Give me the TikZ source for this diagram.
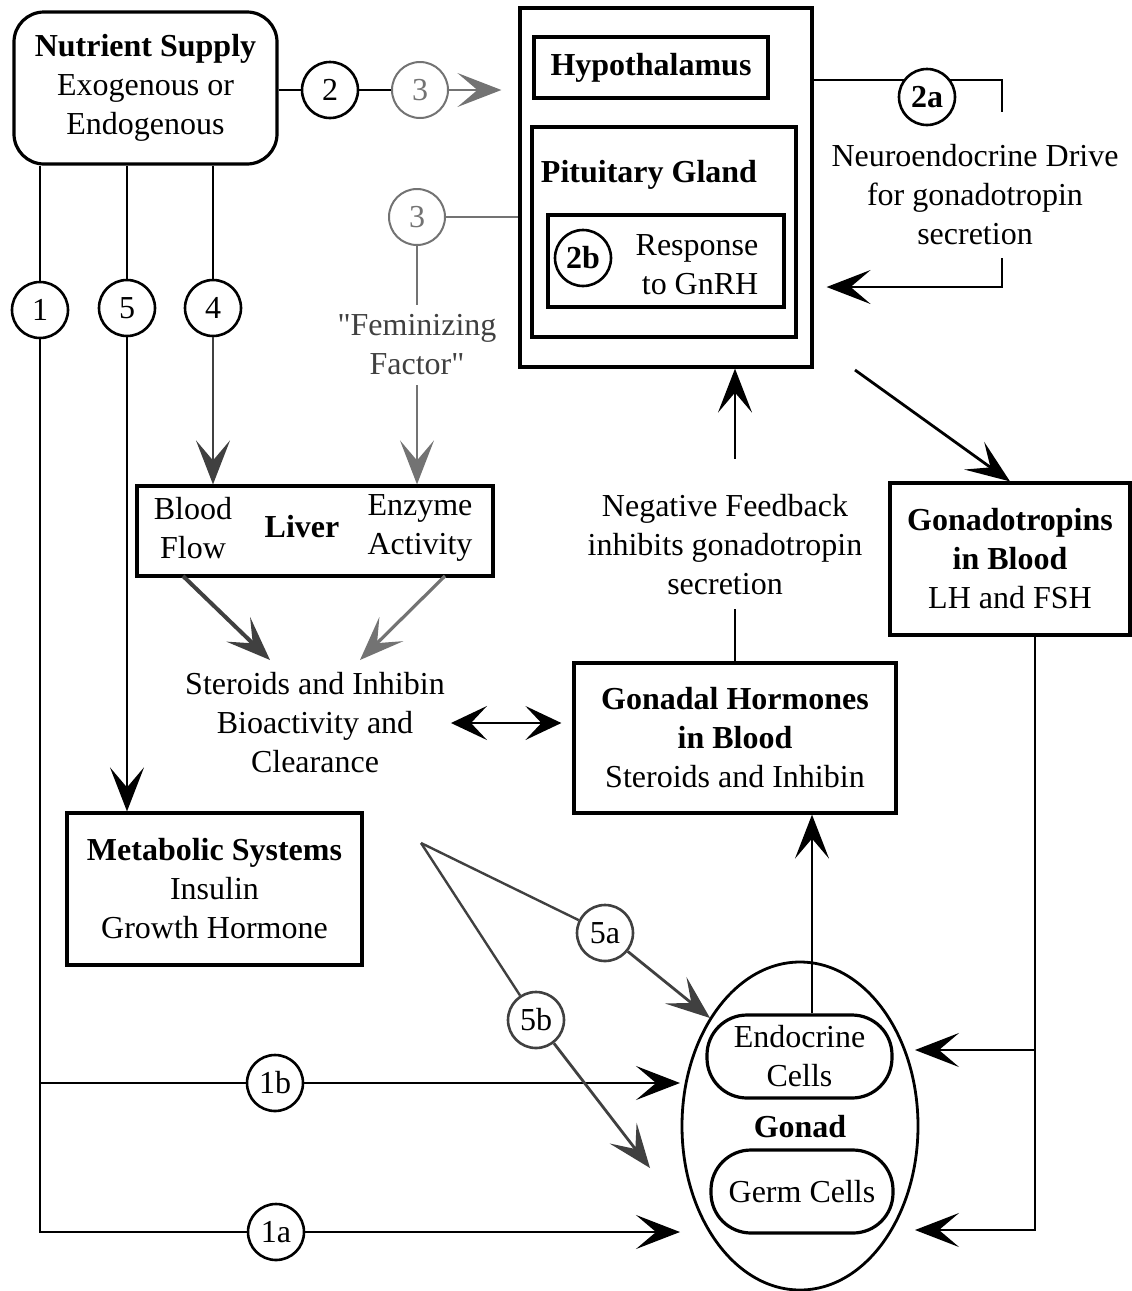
\documentclass[tikz,border=0pt]{standalone}
\usepackage{fontspec}
\setmainfont{Liberation Serif}
\newfontfamily\nqfont{Liberation Serif}[Ligatures=ResetAll]
\usetikzlibrary{arrows.meta,shapes.geometric,calc}
\definecolor{gthree}{gray}{0.45}
\definecolor{dgray}{gray}{0.25}
\begin{document}
\begin{tikzpicture}[x=1pt,y=-1pt,font=\fontsize{32}{39}\selectfont,
  box/.style={draw,line width=3.2pt,align=center,inner sep=0pt},
  num/.style={draw,circle,fill=white,line width=2.6pt,minimum size=56pt,inner sep=0pt},
  conn/.style={line width=2.8pt},
  arr/.style={conn,-{Stealth[length=44pt,width=34pt,inset=20pt]}},
  txt/.style={align=center,inner sep=6pt}]
\useasboundingbox (0,0) rectangle (1132,1291);

% boxes
\node[box,rounded corners=30pt,minimum width=263pt,minimum height=152pt] (nut) at (145.5,88) {\textbf{Nutrient Supply}\\Exogenous or\\Endogenous};
\node[box,minimum width=292pt,minimum height=359pt] (outer) at (666,187.5) {};
\node[box,minimum width=234pt,minimum height=61pt] (hyp) at (651,67.5) {\textbf{Hypothalamus}};
\node[box,minimum width=264pt,minimum height=210pt] (pit) at (664,232) {};
\node[txt] (pitl) at (649,175) {\textbf{Pituitary Gland}};
\node[box,minimum width=236pt,minimum height=92pt] (resp) at (666,261) {};
\node[txt,align=right] (respt) at (697,265) {Response\\to GnRH};

\node[box,minimum width=356pt,minimum height=90pt] (liver) at (315,531) {};
\node[txt] (blood) at (193,528) {Blood\\Flow};
\node[txt] (liv) at (302,527) {\textbf{Liver}};
\node[txt] (enz) at (420,528) {Enzyme\\Activity};

\node[txt] (ster) at (315,723) {Steroids and Inhibin\\Bioactivity and\\Clearance};
\node[box,minimum width=295pt,minimum height=152pt] (meta) at (214.5,889) {\textbf{Metabolic Systems}\\Insulin\\Growth Hormone};
\node[box,minimum width=322pt,minimum height=150pt] (gon) at (735,738) {\textbf{Gonadal Hormones}\\\textbf{in Blood}\\Steroids and Inhibin};
\node[box,minimum width=240pt,minimum height=152pt] (gtr) at (1010,559) {\textbf{Gonadotropins}\\\textbf{in Blood}\\LH and FSH};
\node[txt] (neg) at (725,545) {Negative Feedback\\inhibits gonadotropin\\secretion};
\node[txt] (neuro) at (975,195) {Neuroendocrine Drive\\for gonadotropin\\secretion};
\node[txt,text=black!75,inner sep=10pt] (fem) at (417,345) {{\nqfont"}Feminizing\\Factor{\nqfont"}};

\node[draw,ellipse,line width=2.8pt,minimum width=236pt,minimum height=328pt,inner sep=0pt] (gonad) at (800,1126) {};
\node[box,rounded corners=40pt,minimum width=185pt,minimum height=83pt] (endo) at (799.5,1056.5) {Endocrine\\Cells};
\node[box,rounded corners=40pt,minimum width=182pt,minimum height=83pt] (germ) at (802,1191.5) {Germ Cells};
\node[txt] (gonl) at (800,1127) {\textbf{Gonad}};

% 2a loop (drawn before its circle)
\coordinate (a1) at (1002,80);
\coordinate (a2) at (1002,112);
\coordinate (a3) at (1002,258);
\coordinate (a4) at (1002,287);
\draw[conn] (outer.east |- a1) -- (a1) -- (a2);
\draw[arr] (a3) -- (a4) -- ([xshift=13pt]a4 -| outer.east);

% circles
\node[num] (c1) at (40,310) {1};
\node[num] (c5) at (127,308) {5};
\node[num] (c4) at (213,308) {4};
\node[num] (c2) at (330,90) {2};
\node[num,draw=gthree,text=gthree,line width=2pt] (c3t) at (420,90) {3};
\node[num,draw=gthree,text=gthree,line width=2pt] (c3b) at (417,217) {3};
\node[num,font=\fontsize{32}{39}\selectfont\bfseries] (c2a) at (927,97) {2a};
\node[num,font=\fontsize{32}{39}\selectfont\bfseries] (c2b) at (583,258) {2b};
\node[num,draw=dgray] (c5a) at (605,933) {5a};
\node[num,draw=dgray] (c5b) at (536,1020) {5b};
\node[num] (c1b) at (275,1083) {1b};
\node[num] (c1a) at (276,1232) {1a};

% coordinates for free ends
\coordinate (t1b) at (680,1083);
\coordinate (t1a) at (680,1232);
\coordinate (s5) at (421,843);
\coordinate (t5a) at (710,1018);
\coordinate (t5b) at (650,1168);
\coordinate (la) at (183,576);
\coordinate (lb) at (270,660);
\coordinate (lc) at (445,576);
\coordinate (ld) at (360,660);
\coordinate (gs) at (855,370);
\coordinate (g0) at (1035,635);
\coordinate (g1) at (1035,1050);
\coordinate (g2) at (1035,1230);
\coordinate (tg1) at (915,1050);
\coordinate (tg2) at (915,1230);

% nutrient connectors
\draw[conn] (nut.east |- c2) -- (c2);
\draw[conn] (c2) -- (c3t);
\draw[arr,gthree,line width=2pt] (c3t) -- ([xshift=-17pt]c3t -| outer.west);
\draw[conn] (nut.south -| c1) -- (c1);
\draw[conn] (nut.south -| c5) -- (c5);
\draw[conn] (nut.south -| c4) -- (c4);
\draw[conn] (c1) -- (c1 |- c1a) -- (c1a);
\draw[arr] (c1a) -- (t1a);
\draw[conn] (c1 |- c1b) -- (c1b);
\draw[arr] (c1b) -- (t1b);
\draw[arr] (c5) -- (c5 |- meta.north);
\draw[arr,dgray] (c4) -- (c4 |- liver.north);

% feminizing factor
\draw[gthree,line width=2pt] (c3b) -- (c3b -| outer.west);
\draw[gthree,line width=2pt] (c3b) -- (fem);
\draw[arr,gthree,line width=2pt] (fem) -- (fem |- liver.north);

% liver to steroids
\draw[arr,dgray,line width=4pt] (la) -- (lb);
\draw[arr,gthree,line width=3.2pt] (lc) -- (ld);
\draw[conn,{Stealth[length=36pt,width=34pt,inset=16pt]}-{Stealth[length=36pt,width=34pt,inset=16pt]},line width=2.2pt] (ster.east) -- ([xshift=-11pt]ster.east -| gon.west);

% metabolic to gonad
\draw[conn,dgray,line width=2.4pt] (s5) -- (c5a);
\draw[arr,dgray] (c5a) -- (t5a);
\draw[conn,dgray,line width=2.4pt] (s5) -- (c5b);
\draw[arr,dgray] (c5b) -- (t5b);

% gonad and feedback
\draw[arr] (endo.north -| 812,0) -- (gon.south -| 812,0);
\draw[conn] (gon.north) -- ([yshift=-8pt]neg.south -| gon.north);
\draw[arr] ([yshift=30pt]neg.north -| gon.north) -- (gon.north |- outer.south);
\draw[arr] (gs) -- (gtr.north);
\draw[arr] (g0) -- (g2) -- (tg2);
\draw[arr] (g1) -- (tg1);
\end{tikzpicture}
\end{document}
